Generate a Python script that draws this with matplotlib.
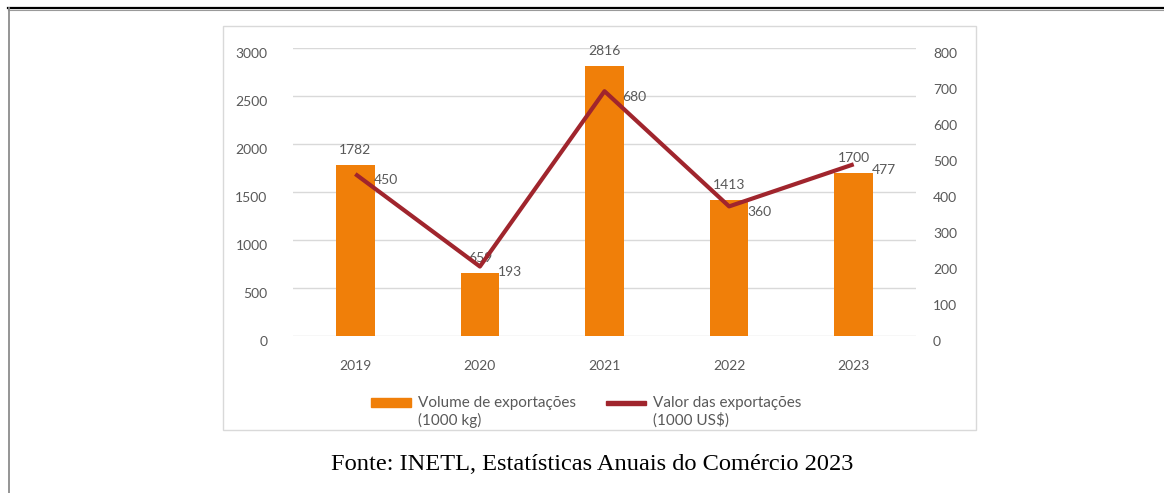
import matplotlib
matplotlib.use("Agg")
import matplotlib.pyplot as plt
import matplotlib.patches as mpatches
import matplotlib.transforms as mtransforms
from matplotlib.legend_handler import HandlerPatch
from matplotlib.lines import Line2D

years = ["2019", "2020", "2021", "2022", "2023"]
volume = [1782, 659, 2816, 1413, 1700]   # 1000 kg
valor = [450, 193, 680, 360, 477]        # 1000 US$
left_ticks = [0, 500, 1000, 1500, 2000, 2500, 3000]
right_ticks = [0, 100, 200, 300, 400, 500, 600, 700, 800]

bar_color = "#F07F09"
line_color = "#A0252D"
grey_text = "#595959"
grid_grey = "#D9D9D9"

plt.rcParams["font.family"] = ["Lato", "DejaVu Sans"]
plt.rcParams["font.size"] = 10

fig = plt.figure(figsize=(11.64, 4.93), dpi=100)

# outer open border (top + left)
fig.add_artist(Line2D([8 / 1164, 1], [1 - 7.5 / 493, 1 - 7.5 / 493], color="black", lw=1.6))
fig.add_artist(Line2D([8 / 1164, 1], [1 - 9.5 / 493, 1 - 9.5 / 493], color="#9A9A9A", lw=0.8))
fig.add_artist(Line2D([8.5 / 1164, 8.5 / 1164], [0, 1 - 8 / 493], color="#8C8C8C", lw=1.3))

# chart frame
fig.add_artist(mpatches.Rectangle((223 / 1164, 1 - 430 / 493), (975.5 - 223) / 1164,
                                  (430 - 26) / 493, transform=fig.transFigure,
                                  fill=False, edgecolor=grid_grey, lw=1.0))

ax = fig.add_axes([293 / 1164, 157 / 493, 623 / 1164, 288 / 493])
ax2 = ax.twinx()

x = list(range(len(years)))
ax.bar(x, volume, width=0.31, color=bar_color, zorder=2)
ax.set_xlim(-0.5, len(years) - 0.5)
ax.set_ylim(0, 3000)
ax.set_yticks(left_ticks)
ax.set_xticks(x)
ax.set_xticklabels(years)
ax.grid(axis="y", color=grid_grey, lw=1.0, zorder=0)
ax.set_axisbelow(True)

ax2.plot(x, valor, color=line_color, lw=3.0, zorder=3, solid_capstyle="butt")
ax2.set_ylim(0, 800)
ax2.set_yticks(right_ticks)

for a in (ax, ax2):
    for s in a.spines.values():
        s.set_visible(False)
    a.tick_params(length=0, colors=grey_text, labelsize=10)
ax.tick_params(axis="y", pad=18.3)
ax.tick_params(axis="x", pad=17.5)
ax2.tick_params(axis="y", pad=12.2)

# tick labels sit a little below the gridlines in the original
shift = mtransforms.ScaledTranslation(0, -5 / 100, fig.dpi_scale_trans)
for lab in ax.get_yticklabels() + ax2.get_yticklabels():
    lab.set_transform(lab.get_transform() + shift)

# data labels
for xi, v in zip(x, volume):
    ax.annotate(str(v), (xi, v), xytext=(0, 6.5), textcoords="offset points",
                ha="center", va="bottom", color=grey_text, fontsize=10, zorder=4)
for xi, v in zip(x, valor):
    ax2.annotate(str(v), (xi, v), xytext=(13, -4), textcoords="offset points",
                 ha="left", va="center", color=grey_text, fontsize=10, zorder=4)


def bar_patch(legend, orig_handle, xdescent, ydescent, width, height, fontsize):
    return mpatches.Rectangle((-xdescent, -ydescent + 7.5), width, 6.2)


def line_patch(legend, orig_handle, xdescent, ydescent, width, height, fontsize):
    return mpatches.Rectangle((-xdescent, -ydescent + 9.2), width, 2.4)


h1 = mpatches.Patch(color=bar_color)
h2 = mpatches.Patch(color=line_color)
leg = fig.legend([h1, h2],
                 ["Volume de exportações\n(1000 kg)", "Valor das exportações\n(1000 US$)"],
                 handler_map={h1: HandlerPatch(patch_func=bar_patch),
                              h2: HandlerPatch(patch_func=line_patch)},
                 ncol=2, frameon=False, loc="center",
                 bbox_to_anchor=(586 / 1164, 1 - 412 / 493),
                 handlelength=2.6, handletextpad=0.46, columnspacing=1.96,
                 fontsize=11, labelspacing=0.2)
for t in leg.get_texts():
    t.set_color(grey_text)
    t.set_linespacing(1.25)

fig.text(592 / 1164, 1 - 465 / 493, "Fonte: INETL, Estatísticas Anuais do Comércio 2023",
         ha="center", va="center", fontsize=17.6,
         family=["Liberation Serif", "DejaVu Serif"], color="black")

fig.savefig("out.png", dpi=100)
